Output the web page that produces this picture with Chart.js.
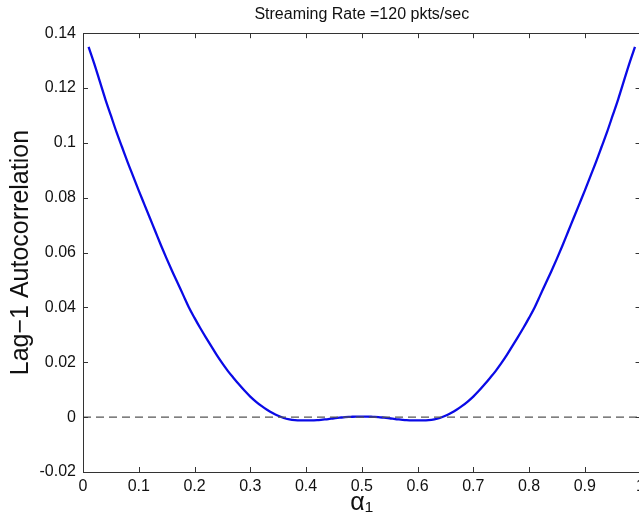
<!DOCTYPE html>
<html>
<head>
<meta charset="utf-8">
<script src="https://cdn.jsdelivr.net/npm/chart.js@4.4.1/dist/chart.umd.min.js"></script>
<style>
  html, body { margin: 0; padding: 0; background: #fff; overflow: hidden; }
  #wrap { width: 639px; height: 526px; overflow: hidden; }
</style>
</head>
<body>
<div id="wrap"><canvas id="chartOne" width="650" height="526"></canvas></div>
<script>
const alphaValues = [
  0.01, 0.02, 0.03, 0.04, 0.05, 0.06, 0.07, 0.08, 0.09, 0.10,
  0.11, 0.12, 0.13, 0.14, 0.15, 0.16, 0.17, 0.18, 0.19, 0.20,
  0.21, 0.22, 0.23, 0.24, 0.25, 0.26, 0.27, 0.28, 0.29, 0.30,
  0.31, 0.32, 0.33, 0.34, 0.35, 0.36, 0.37, 0.38, 0.39, 0.40,
  0.41, 0.42, 0.43, 0.44, 0.45, 0.46, 0.47, 0.48, 0.49, 0.50,
  0.51, 0.52, 0.53, 0.54, 0.55, 0.56, 0.57, 0.58, 0.59, 0.60,
  0.61, 0.62, 0.63, 0.64, 0.65, 0.66, 0.67, 0.68, 0.69, 0.70,
  0.71, 0.72, 0.73, 0.74, 0.75, 0.76, 0.77, 0.78, 0.79, 0.80,
  0.81, 0.82, 0.83, 0.84, 0.85, 0.86, 0.87, 0.88, 0.89, 0.90,
  0.91, 0.92, 0.93, 0.94, 0.95, 0.96, 0.97, 0.98, 0.99
];

const autocorr = [
  0.135, 0.129, 0.1225, 0.116, 0.110, 0.104, 0.0985, 0.093, 0.0878, 0.0826,
  0.0776, 0.0726, 0.0676, 0.0626, 0.0578, 0.0532, 0.0488, 0.0444, 0.040, 0.0362,
  0.0326, 0.0292, 0.0259, 0.0226, 0.0196, 0.0168, 0.0143, 0.0119, 0.0096, 0.0075,
  0.0057, 0.0041, 0.0027, 0.0015, 0.0005, -0.0003, -0.0008, -0.0011, -0.0012, -0.0012,
  -0.0012, -0.0011, -0.0009, -0.0007, -0.0004, -0.0002, 0.0000, 0.0001, 0.0002, 0.0002,
  0.0002, 0.0001, 0.0000, -0.0002, -0.0004, -0.0007, -0.0009, -0.0011, -0.0012, -0.0012,
  -0.0012, -0.0011, -0.0008, -0.0003, 0.0005, 0.0015, 0.0027, 0.0041, 0.0057, 0.0075,
  0.0096, 0.0119, 0.0143, 0.0168, 0.0196, 0.0226, 0.0259, 0.0292, 0.0326, 0.0362,
  0.040, 0.0444, 0.0488, 0.0532, 0.0578, 0.0626, 0.0676, 0.0726, 0.0776, 0.0826,
  0.0878, 0.093, 0.0985, 0.104, 0.110, 0.116, 0.1225, 0.129, 0.135
];

const zeroLineX = [0, 1];
const zeroLineY = [0, 0];

const xTicks = [0, 0.1, 0.2, 0.3, 0.4, 0.5, 0.6, 0.7, 0.8, 0.9, 1];
const xTickLabels = ['0', '0.1', '0.2', '0.3', '0.4', '0.5', '0.6', '0.7', '0.8', '0.9', '1'];
const yTicks = [-0.02, 0, 0.02, 0.04, 0.06, 0.08, 0.1, 0.12, 0.14];
const yTickLabels = ['-0.02', '0', '0.02', '0.04', '0.06', '0.08', '0.1', '0.12', '0.14'];

const font = "'Liberation Sans', Arial, Helvetica, sans-serif";

// matlab style box with inward ticks
const boxTicks = {
  id: 'boxTicks',
  afterDatasetsDraw(chart) {
    const ctx = chart.ctx;
    const a = chart.chartArea;
    const xs = chart.scales.x;
    const ys = chart.scales.y;
    ctx.save();
    ctx.strokeStyle = '#333333';
    ctx.lineWidth = 1;
    ctx.strokeRect(Math.round(a.left) + 0.5, Math.round(a.top) + 0.5,
      Math.round(a.right - a.left), Math.round(a.bottom - a.top));
    ctx.beginPath();
    xTicks.forEach(v => {
      const px = Math.round(xs.getPixelForValue(v)) + 0.5;
      ctx.moveTo(px, a.bottom);
      ctx.lineTo(px, a.bottom - 5);
      ctx.moveTo(px, a.top);
      ctx.lineTo(px, a.top + 5);
    });
    yTicks.forEach(v => {
      const py = Math.round(ys.getPixelForValue(v)) + 0.5;
      ctx.moveTo(a.left, py);
      ctx.lineTo(a.left + 5, py);
      ctx.moveTo(a.right, py);
      ctx.lineTo(a.right - 5, py);
    });
    ctx.stroke();
    ctx.restore();
  }
};

const chart1 = document.getElementById('chartOne');

new Chart(chart1, {
  type: 'line',
  data: {
    datasets: [{
      label: 'zero',
      data: zeroLineX.map((x, i) => ({ x: x, y: zeroLineY[i] })),
      borderColor: '#555555',
      borderWidth: 1.3,
      borderDash: [8, 5],
      pointRadius: 0,
      tension: 0
    }, {
      label: 'Lag-1 Autocorrelation',
      data: alphaValues.map((x, i) => ({ x: x, y: autocorr[i] })),
      borderColor: '#0a0ae6',
      borderWidth: 2.3,
      pointRadius: 0,
      cubicInterpolationMode: 'monotone'
    }]
  },
  options: {
    responsive: false,
    animation: false,
    layout: { padding: { left: 0, right: 9, top: 0, bottom: 0 } },
    plugins: {
      legend: { display: false },
      tooltip: { enabled: false },
      title: {
        display: true,
        fullSize: false,
        text: 'Streaming Rate =120 pkts/sec',
        color: '#111',
        font: { family: font, size: 16, weight: 'normal' },
        padding: { top: 5, bottom: 9 }
      }
    },
    scales: {
      x: {
        type: 'linear',
        min: 0,
        max: 1,
        afterBuildTicks: s => { s.ticks = xTicks.map(v => ({ value: v })); },
        afterFit: s => { s.height = 54; },
        grid: { display: false, drawTicks: false },
        border: { display: false },
        ticks: {
          color: '#111',
          padding: 5,
          maxRotation: 0,
          font: { family: font, size: 16 },
          callback: (v, i) => xTickLabels[i]
        },
        title: {
          display: true,
          text: 'α₁',
          color: '#111',
          font: { family: font, size: 25 },
          padding: { top: 0, bottom: 8 }
        }
      },
      y: {
        type: 'linear',
        min: -0.02,
        max: 0.14,
        afterBuildTicks: s => { s.ticks = yTicks.map(v => ({ value: v })); },
        afterFit: s => { s.width = 83; },
        grid: { display: false, drawTicks: false },
        border: { display: false },
        ticks: {
          color: '#111',
          padding: 7,
          font: { family: font, size: 16 },
          callback: (v, i) => yTickLabels[i]
        },
        title: {
          display: true,
          text: 'Lag−1 Autocorrelation',
          color: '#111',
          font: { family: font, size: 25 },
          padding: { top: 6, bottom: 0 }
        }
      }
    }
  },
  plugins: [boxTicks]
});
</script>
</body>
</html>
